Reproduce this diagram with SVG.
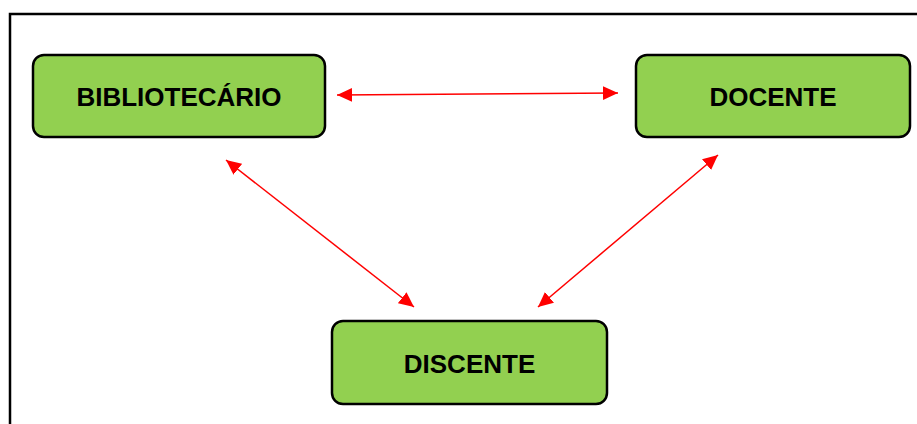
<svg xmlns="http://www.w3.org/2000/svg" width="917" height="424" viewBox="0 0 917 424">
  <defs>
    <style>
      .node rect { fill: #92d050; stroke: #000; stroke-width: 2.5; }
      .node text { font-family: "Liberation Sans", Arial, sans-serif; font-weight: bold; font-size: 26px; fill: #000; text-anchor: middle; }
      .conn line { stroke: #ff0000; stroke-width: 1.5; fill: none; marker-start: url(#ah); marker-end: url(#ah); }
    </style>
    <marker id="ah" markerUnits="userSpaceOnUse" markerWidth="16" markerHeight="15" refX="15" refY="7" orient="auto-start-reverse">
      <path d="M0,0 L15,7 L0,14 z" fill="#ff0000"/>
    </marker>
  </defs>
  <rect x="0" y="0" width="917" height="424" fill="#ffffff"/>
  <path d="M10,424 L10,14 L917,14" fill="none" stroke="#000" stroke-width="2.5"/>
  <g id="connectors" class="conn">
    <line x1="337" y1="95" x2="618" y2="93"/>
    <line x1="226" y1="160" x2="414" y2="307"/>
    <line x1="718" y1="155" x2="538" y2="307"/>
  </g>
  <g id="bibliotecario" class="node">
    <rect x="33" y="55" width="292" height="82" rx="11"/>
    <text x="179" y="106">BIBLIOTECÁRIO</text>
  </g>
  <g id="docente" class="node">
    <rect x="636" y="55" width="274" height="82" rx="11"/>
    <text x="773" y="106">DOCENTE</text>
  </g>
  <g id="discente" class="node">
    <rect x="332" y="321" width="275" height="83" rx="11"/>
    <text x="469.5" y="373">DISCENTE</text>
  </g>
</svg>
